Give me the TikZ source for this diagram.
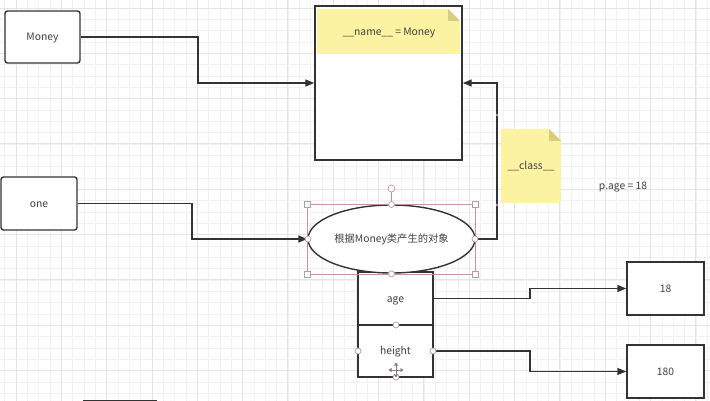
\documentclass[tikz,border=0pt]{standalone}
\usepackage{fontspec}
\setmainfont{Noto Sans CJK SC}
\usetikzlibrary{shapes.geometric,arrows.meta}
\definecolor{txt}{HTML}{404040}
\definecolor{ln}{HTML}{333333}
\definecolor{note}{HTML}{FCF3A2}
\definecolor{fold}{HTML}{D9CE7E}
\definecolor{sel}{HTML}{C495A3}
\definecolor{gmaj}{HTML}{E4E4E4}
\definecolor{gmin}{HTML}{F1F1F1}
\tikzset{
  box/.style={draw=ln,line width=1.4pt,fill=white,inner sep=0pt,font=\fontsize{10.3}{12}\selectfont,text=txt,text height=7.5pt,text depth=0pt},
  rbox/.style={box,rounded corners=2.5pt},
  conn/.style={draw=ln,line width=1.4pt,-{Triangle[length=9pt,width=7pt]}},
  plain/.style={draw=ln,line width=1.4pt},
  hcirc/.style={draw=sel,fill=white,line width=0.7pt},
  hsq/.style={draw=sel,fill=white,line width=0.7pt},
  lbl/.style={font=\fontsize{10.3}{12}\selectfont,text=txt,inner sep=0pt,text height=7.5pt,text depth=0pt},
}
\begin{document}
\begin{tikzpicture}[x=1pt,y=-1pt]
\useasboundingbox (0,0) rectangle (710,401);
\fill[white] (0,0) rectangle (710,401);
% grid
\foreach \i in {-2,...,63} {\draw[gmin,line width=0.6pt] ({16+\i*11.33},0) -- ({16+\i*11.33},401);}
\foreach \i in {-1,...,36} {\draw[gmin,line width=0.6pt] (0,{8+\i*11.33}) -- (710,{8+\i*11.33});}
\foreach \i in {0,...,15} {\draw[gmaj,line width=0.8pt] ({16+\i*45.3},0) -- ({16+\i*45.3},401);}
\foreach \i in {0,...,9} {\draw[gmaj,line width=0.8pt] (0,{8+\i*45.3}) -- (710,{8+\i*45.3});}

% nodes
\node[rbox,minimum width=75pt,minimum height=52pt] (money) at (42.5,37) {Money};
\node[rbox,minimum width=76pt,minimum height=53pt] (one) at (39,203.5) {one};
\node[box,minimum width=147pt,minimum height=154pt] (big) at (388.5,83) {};
\node[box,minimum width=77pt,minimum height=53pt] (v18) at (665.5,288.5) {18};
\node[box,minimum width=77pt,minimum height=53pt] (v180) at (665.5,371.5) {180};

% note in big box
\fill[note] (317,9) -- (448,9) -- (460,21) -- (460,54) -- (317,54) -- cycle;
\fill[fold] (448,9) -- (448,21) -- (460,21) -- cycle;
\node[lbl] (namelbl) at (389,32) {\_\_name\_\_ = Money};

% class note
\fill[note] (501,129) -- (549,129) -- (561,141) -- (561,203) -- (501,203) -- cycle;
\fill[fold] (549,129) -- (549,141) -- (561,141) -- cycle;
\node[lbl] (classlbl) at (531,166) {\_\_class\_\_};

\node[lbl] (page) at (623,186) {p.age = 18};

% object ellipse and attribute boxes
\node[box,minimum width=75pt,minimum height=53pt] (age) at (395.5,298.5) {age};
\node[box,minimum width=75pt,minimum height=52pt] (height) at (395.5,351) {height};
\node[box,ellipse,minimum width=167pt,minimum height=68pt] (obj) at (391.5,239) {根据Money类产生的对象};

% connectors
\draw[conn] (money.east) -- (198,37) |- (big.west);
\draw[conn] (one.east) -- (192,203.5) |- (obj.west);
\draw[conn] (obj.east) -- (497,239) |- (big.east);
\draw[conn] (age.east) -- (530,298.5) |- (v18.west);
\draw[conn] (height.east) -- (530,351) |- (v180.west);

\fill[sel] (497,115) circle (1.3);
\fill[sel] (497,205) circle (1.3);

% selection overlay
\draw[sel,line width=0.7pt] (307.5,204.5) rectangle (475,274);
\draw[sel,line width=0.8pt] (391.5,192) -- (391.5,204.5);
\draw[hcirc] (391.5,188.5) circle (3.5);
\foreach \p in {(307.5,204.5),(475,204.5),(307.5,274),(475,274)} {\draw[hsq] \p ++(-3,-3) rectangle ++(6,6);}
\foreach \p in {(391.5,204.5),(308,239),(475,239),(391.5,274)} {\draw[hcirc] \p circle (3);}
\foreach \p in {(396,325),(358,351),(433,351),(396,377)} {\draw[hcirc] \p circle (3);}

% move cursor
\begin{scope}[line width=1.6pt,white]
\draw (396,362) -- (396,378); \draw (388,370) -- (404,370);
\end{scope}
\begin{scope}[line width=0.9pt,gray,{Triangle[length=3pt,width=4pt]}-{Triangle[length=3pt,width=4pt]}]
\draw (396,362.5) -- (396,377.5); \draw (388.5,370) -- (403.5,370);
\end{scope}

% partial box at bottom edge
\draw[plain] (83,400.5) -- (157,400.5);
\end{tikzpicture}
\end{document}
